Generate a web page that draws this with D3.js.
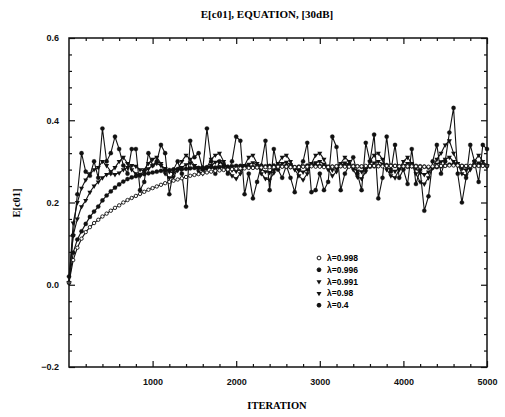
<!DOCTYPE html>
<html>
<head>
<meta charset="utf-8">
<script src="https://cdn.jsdelivr.net/npm/d3@7"></script>
<style>
  body { margin: 0; background: #fff; }
  .tick text { font-family: "Liberation Sans", Arial, sans-serif; font-weight: bold; font-size: 9px; fill: #111; }
  .tick line { stroke: #111; stroke-width: 1.2; }
</style>
</head>
<body>
<div id="wrapper"></div>
<script>
// data (one value every 50 iterations)
const iterations = d3.range(0, 5001, 50);

const lambdaLabels = ["λ=0.998", "λ=0.996", "λ=0.991", "λ=0.98", "λ=0.4"];

const values998 = [
  0.005, 0.06, 0.09, 0.112, 0.128, 0.14, 0.15, 0.158, 0.166, 0.173,
  0.18, 0.187, 0.193, 0.2, 0.206, 0.211, 0.216, 0.221, 0.226, 0.231,
  0.235, 0.239, 0.243, 0.247, 0.25, 0.253, 0.256, 0.259, 0.262, 0.265,
  0.267, 0.269, 0.271, 0.273, 0.275, 0.277, 0.278, 0.279, 0.28, 0.281,
  0.282,
  0.283, 0.283, 0.284, 0.284, 0.285, 0.285, 0.286, 0.286, 0.286, 0.287,
  0.287, 0.287, 0.286, 0.286, 0.286, 0.287, 0.287, 0.288, 0.287, 0.287,
  0.286, 0.286, 0.287, 0.288, 0.288, 0.287, 0.287, 0.288, 0.288, 0.288,
  0.289, 0.289, 0.289, 0.288, 0.288, 0.289, 0.289, 0.289, 0.288, 0.288,
  0.288, 0.288, 0.288, 0.287, 0.287, 0.287, 0.288, 0.288, 0.289, 0.289,
  0.29, 0.29, 0.29, 0.289, 0.289, 0.289, 0.289, 0.289, 0.289, 0.289
];

const values996 = [
  0.005, 0.078, 0.11, 0.13, 0.148, 0.165, 0.178, 0.19, 0.205, 0.217,
  0.227, 0.236, 0.244, 0.251, 0.257, 0.261, 0.264, 0.267, 0.269, 0.271,
  0.273, 0.275, 0.277, 0.278, 0.279, 0.28, 0.281, 0.281, 0.282, 0.283,
  0.284, 0.284, 0.285, 0.286, 0.286, 0.285, 0.286, 0.287, 0.287, 0.288,
  0.289,
  0.289, 0.288, 0.287, 0.286, 0.286, 0.287, 0.288, 0.289, 0.29, 0.289,
  0.288, 0.287, 0.286, 0.286, 0.287, 0.288, 0.29, 0.291, 0.29, 0.289,
  0.288, 0.287, 0.287, 0.288, 0.289, 0.29, 0.29, 0.289, 0.288, 0.287,
  0.286, 0.287, 0.288, 0.289, 0.29, 0.291, 0.29, 0.289, 0.288, 0.287,
  0.287, 0.288, 0.289, 0.288, 0.287, 0.285, 0.285, 0.286, 0.288, 0.29,
  0.292, 0.293, 0.291, 0.289, 0.288, 0.288, 0.289, 0.29, 0.29, 0.289
];

const values991 = [
  0.005, 0.12, 0.16, 0.19, 0.205, 0.225, 0.24, 0.25, 0.26, 0.268,
  0.27, 0.268, 0.272, 0.28, 0.285, 0.29, 0.288, 0.28, 0.276, 0.282,
  0.29,
  0.295, 0.29, 0.283, 0.275, 0.272, 0.278, 0.285, 0.292, 0.296, 0.29,
  0.284, 0.28, 0.283, 0.29, 0.298, 0.3, 0.294, 0.286, 0.279, 0.276,
  0.28, 0.287, 0.293, 0.297, 0.29, 0.281, 0.275, 0.273, 0.279, 0.288,
  0.295, 0.298, 0.292, 0.284, 0.278, 0.274, 0.28, 0.29, 0.297, 0.3,
  0.293, 0.285, 0.279, 0.283, 0.29, 0.296, 0.292, 0.284, 0.277, 0.275,
  0.281, 0.289, 0.296, 0.3, 0.294, 0.286, 0.28, 0.276, 0.282, 0.29,
  0.295, 0.291, 0.283, 0.272, 0.268, 0.274, 0.284, 0.293, 0.299, 0.305,
  0.31, 0.3, 0.29, 0.282, 0.279, 0.285, 0.292, 0.296, 0.292, 0.288
];

const values98 = [
  0.005, 0.15, 0.2, 0.235, 0.255, 0.27, 0.28, 0.285, 0.3, 0.29,
  0.275, 0.285, 0.3, 0.31, 0.295, 0.28, 0.27, 0.265, 0.28, 0.295,
  0.305,
  0.31, 0.295, 0.27, 0.26, 0.262, 0.28, 0.3, 0.315, 0.305, 0.29,
  0.275, 0.27, 0.285, 0.305, 0.315, 0.32, 0.3, 0.28, 0.265, 0.258,
  0.27, 0.29, 0.31, 0.315, 0.295, 0.27, 0.258, 0.255, 0.272, 0.295,
  0.31, 0.315, 0.3, 0.28, 0.265, 0.255, 0.27, 0.295, 0.315, 0.32,
  0.305, 0.28, 0.265, 0.275, 0.295, 0.31, 0.3, 0.28, 0.262, 0.258,
  0.275, 0.3, 0.315, 0.32, 0.305, 0.28, 0.265, 0.26, 0.28, 0.3,
  0.31, 0.295, 0.27, 0.25, 0.245, 0.26, 0.285, 0.305, 0.32, 0.34,
  0.35, 0.32, 0.295, 0.27, 0.265, 0.28, 0.3, 0.315, 0.3, 0.29
];

const values04 = [
  0.02, 0.12, 0.22, 0.32, 0.275, 0.265, 0.3, 0.26, 0.38, 0.3,
  0.32, 0.36, 0.33, 0.29, 0.27, 0.33, 0.33, 0.23, 0.25, 0.32,
  0.29, 0.3, 0.34, 0.32, 0.22, 0.28, 0.3, 0.27, 0.19, 0.35,
  0.31, 0.32, 0.28, 0.38, 0.3, 0.27, 0.3, 0.29, 0.27, 0.3,
  0.36, 0.35, 0.22, 0.27, 0.21, 0.25, 0.29, 0.35, 0.23, 0.33,
  0.28, 0.26, 0.29, 0.26, 0.225, 0.28, 0.3, 0.345, 0.225, 0.23,
  0.27, 0.23, 0.25, 0.36, 0.335, 0.23, 0.27, 0.29, 0.31, 0.27,
  0.23, 0.345, 0.3, 0.365, 0.21, 0.26, 0.36, 0.275, 0.34, 0.26,
  0.28, 0.245, 0.33, 0.245, 0.28, 0.18, 0.215, 0.3, 0.34, 0.27,
  0.3, 0.37, 0.43, 0.27, 0.2, 0.26, 0.34, 0.3, 0.25, 0.34,
  0.33
];

const xTicks = [1000, 2000, 3000, 4000, 5000];
const yTicks = [-0.2, 0.0, 0.2, 0.4, 0.6];

function drawChart() {
  const dimensions = {
    width: 505,
    height: 417,
    margin: { top: 38, right: 18, bottom: 50, left: 69 }
  };
  dimensions.boundedWidth = dimensions.width - dimensions.margin.left - dimensions.margin.right;
  dimensions.boundedHeight = dimensions.height - dimensions.margin.top - dimensions.margin.bottom;

  const wrapper = d3.select("#wrapper")
    .append("svg")
    .attr("width", dimensions.width)
    .attr("height", dimensions.height);

  const bounds = wrapper.append("g")
    .attr("transform", `translate(${dimensions.margin.left},${dimensions.margin.top})`);

  const xScale = d3.scaleLinear().domain([0, 5000]).range([0, dimensions.boundedWidth]);
  const yScale = d3.scaleLinear().domain([-0.2, 0.6]).range([dimensions.boundedHeight, 0]);

  // series
  const series = [
    { label: lambdaLabels[4], values: values04, marker: "dot", r: 2.1 },
    { label: lambdaLabels[3], values: values98, marker: "tri", r: 2 },
    { label: lambdaLabels[2], values: values991, marker: "tri", r: 2 },
    { label: lambdaLabels[1], values: values996, marker: "dot", r: 2.1 },
    { label: lambdaLabels[0], values: values998, marker: "ring", r: 1.7 }
  ];

  const lineGenerator = d3.line()
    .x((d, i) => xScale(iterations[i]))
    .y(d => yScale(d));

  const triangle = d3.symbol().type(d3.symbolTriangle).size(11);

  series.forEach(s => {
    const g = bounds.append("g");
    g.append("path")
      .attr("d", lineGenerator(s.values))
      .attr("fill", "none")
      .attr("stroke", "#111")
      .attr("stroke-width", 1.1);
    const pts = s.values.map((v, i) => [xScale(iterations[i]), yScale(v)]);
    if (s.marker === "tri") {
      g.selectAll("path.m").data(pts).join("path")
        .attr("class", "m")
        .attr("d", triangle)
        .attr("transform", d => `translate(${d[0]},${d[1]}) rotate(180)`)
        .attr("fill", "#111");
    } else {
      g.selectAll("circle").data(pts).join("circle")
        .attr("cx", d => d[0])
        .attr("cy", d => d[1])
        .attr("r", s.r)
        .attr("fill", s.marker === "ring" ? "#fff" : "#111")
        .attr("stroke", "#111")
        .attr("stroke-width", s.marker === "ring" ? 0.9 : 0.3);
    }
  });

  // axes: ticks point inward on all four sides
  const minorX = d3.range(200, 5000, 200).filter(v => v % 1000 !== 0);
  const minorY = d3.range(-0.16, 0.6, 0.04).filter(v => Math.abs(v / 0.2 - Math.round(v / 0.2)) > 0.01);

  bounds.append("g")
    .attr("transform", `translate(0,${dimensions.boundedHeight})`)
    .call(d3.axisBottom(xScale).tickValues(xTicks).tickSize(-6).tickPadding(12).tickFormat(d3.format("d")))
    .call(g => g.select(".domain").remove());
  bounds.append("g")
    .attr("transform", `translate(0,${dimensions.boundedHeight})`)
    .call(d3.axisBottom(xScale).tickValues(minorX).tickSize(-3).tickFormat(""))
    .call(g => g.select(".domain").remove());
  bounds.append("g")
    .call(d3.axisTop(xScale).tickValues(xTicks).tickSize(-6).tickFormat(""))
    .call(g => g.select(".domain").remove());
  bounds.append("g")
    .call(d3.axisTop(xScale).tickValues(minorX).tickSize(-3).tickFormat(""))
    .call(g => g.select(".domain").remove());

  bounds.append("g")
    .call(d3.axisLeft(yScale).tickValues(yTicks).tickSize(-6).tickPadding(10)
      .tickFormat(d => d3.format(".1f")(d).replace("-", "\u2212")))
    .call(g => g.select(".domain").remove());
  bounds.append("g")
    .call(d3.axisLeft(yScale).tickValues(minorY).tickSize(-3).tickFormat(""))
    .call(g => g.select(".domain").remove());
  bounds.append("g")
    .attr("transform", `translate(${dimensions.boundedWidth},0)`)
    .call(d3.axisRight(yScale).tickValues(yTicks).tickSize(-6).tickFormat(""))
    .call(g => g.select(".domain").remove());
  bounds.append("g")
    .attr("transform", `translate(${dimensions.boundedWidth},0)`)
    .call(d3.axisRight(yScale).tickValues(minorY).tickSize(-3).tickFormat(""))
    .call(g => g.select(".domain").remove());

  bounds.append("rect")
    .attr("width", dimensions.boundedWidth)
    .attr("height", dimensions.boundedHeight)
    .attr("fill", "none")
    .attr("stroke", "#111")
    .attr("stroke-width", 1.5);

  // legend
  const legendItems = [
    { label: lambdaLabels[0], marker: "ring" },
    { label: lambdaLabels[1], marker: "dot" },
    { label: lambdaLabels[2], marker: "tri" },
    { label: lambdaLabels[3], marker: "tri" },
    { label: lambdaLabels[4], marker: "dot" }
  ];
  const legend = wrapper.append("g").attr("transform", "translate(319,258)");
  const rows = legend.selectAll("g").data(legendItems).join("g")
    .attr("transform", (d, i) => `translate(0,${i * 11.8})`);
  rows.each(function(d) {
    const row = d3.select(this);
    if (d.marker === "tri") {
      row.append("path").attr("d", triangle).attr("transform", "rotate(180)").attr("fill", "#111");
    } else {
      row.append("circle").attr("r", 1.9)
        .attr("fill", d.marker === "ring" ? "#fff" : "#111")
        .attr("stroke", "#111").attr("stroke-width", 1);
    }
  });
  rows.append("text")
    .attr("x", 8)
    .attr("dy", "0.35em")
    .style("font-family", "'Liberation Sans', Arial, sans-serif")
    .style("font-weight", "bold")
    .style("font-size", "8.5px")
    .text(d => d.label);

  // titles
  wrapper.append("text")
    .attr("x", 267)
    .attr("y", 18)
    .attr("text-anchor", "middle")
    .style("font-family", "'Liberation Serif', serif")
    .style("font-weight", "bold")
    .style("font-size", "11px")
    .text("E[c01], EQUATION, [30dB]");

  wrapper.append("text")
    .attr("x", 277)
    .attr("y", 409)
    .attr("text-anchor", "middle")
    .style("font-family", "'Liberation Serif', serif")
    .style("font-weight", "bold")
    .style("font-size", "10.5px")
    .text("ITERATION");

  wrapper.append("text")
    .attr("transform", "translate(20,203) rotate(-90)")
    .attr("text-anchor", "middle")
    .style("font-family", "'Liberation Serif', serif")
    .style("font-weight", "bold")
    .style("font-size", "10.5px")
    .text("E[c01]");
}
drawChart();
</script>
</body>
</html>
